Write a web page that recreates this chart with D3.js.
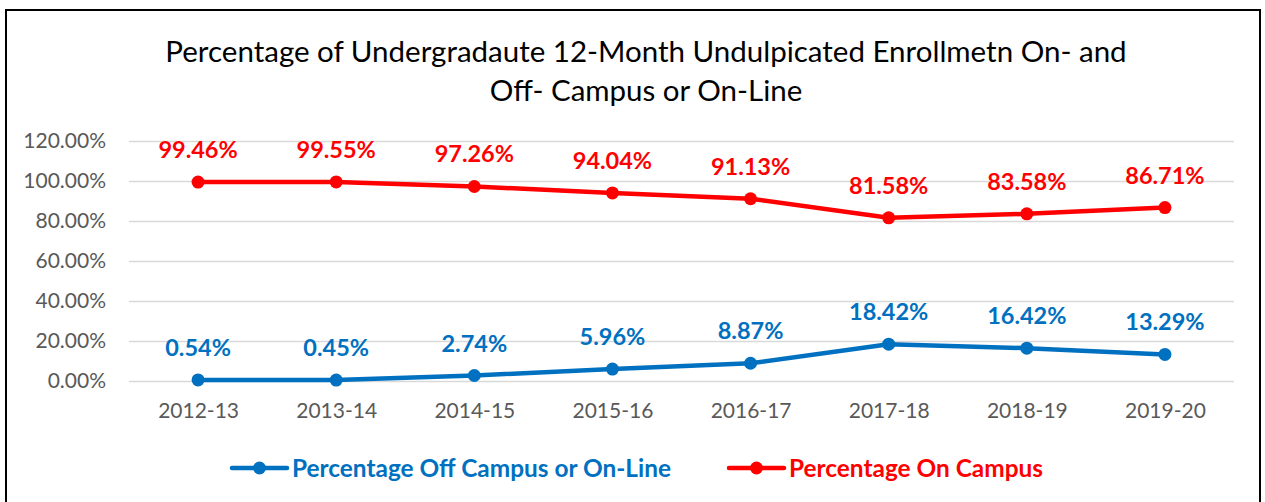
<!DOCTYPE html>
<html>
<head>
<meta charset="utf-8">
<script src="https://cdn.jsdelivr.net/npm/d3@7/dist/d3.min.js"></script>
<style>
  body { margin: 0; background: #fff; }
  svg { display: block; font-family: Lato, "Open Sans", sans-serif; }
</style>
</head>
<body>
<div id="chart"></div>
<script>
// data
var years = ["2012-13", "2013-14", "2014-15", "2015-16", "2016-17", "2017-18", "2018-19", "2019-20"];
var offCampus = [0.54, 0.45, 2.74, 5.96, 8.87, 18.42, 16.42, 13.29];
var onCampus = [99.46, 99.55, 97.26, 94.04, 91.13, 81.58, 83.58, 86.71];
var yTicks = [0, 20, 40, 60, 80, 100, 120];
var titleLines = ["Percentage of Undergradaute 12-Month Undulpicated Enrollmetn On- and",
                  "Off- Campus or On-Line"];

var series = [
  {name: "Percentage Off Campus or On-Line", values: offCampus, color: "#0070C0"},
  {name: "Percentage On Campus", values: onCampus, color: "#FF0000"}
];

var W = 1265, H = 502;
var plot = {left: 129, right: 1234, top: 141, bottom: 381};

var svg = d3.select("#chart").append("svg")
  .attr("width", W)
  .attr("height", H);

// outer chart border
svg.append("rect")
  .attr("x", 6).attr("y", 10)
  .attr("width", 1254).attr("height", 520)
  .attr("fill", "#fff")
  .attr("stroke", "#000")
  .attr("stroke-width", 2);

// title
svg.append("g").selectAll("text")
  .data(titleLines)
  .enter().append("text")
    .attr("x", 646)
    .attr("y", function(d, i) { return 62 + i * 39; })
    .attr("text-anchor", "middle")
    .attr("fill", "#000")
    .style("font-size", "29.5px")
    .text(function(d) { return d; });

var x = d3.scalePoint()
  .domain(years)
  .range([plot.left, plot.right])
  .padding(0.5);

var y = d3.scaleLinear()
  .domain([0, 120])
  .range([plot.bottom, plot.top]);

// gridlines
var yGrid = d3.axisLeft(y)
  .tickValues(yTicks)
  .tickFormat("")
  .tickSize(-(plot.right - plot.left));

var grid = svg.append("g")
  .attr("transform", "translate(" + plot.left + ",0)")
  .call(yGrid);
grid.select(".domain").remove();
grid.selectAll("line").attr("stroke", "#d9d9d9").attr("stroke-width", 1.5);

// y axis labels
var yAxis = svg.append("g")
  .attr("transform", "translate(" + (plot.left - 20) + ",0)")
  .call(d3.axisLeft(y).tickValues(yTicks).tickSize(0).tickFormat(function(d) { return d.toFixed(2) + "%"; }));
yAxis.select(".domain").remove();
yAxis.selectAll("text")
  .attr("fill", "#595959")
  .style("font-size", "21px")
  .style("font-family", "Lato, sans-serif");

// x axis labels
var xAxis = svg.append("g")
  .attr("transform", "translate(0," + plot.bottom + ")")
  .call(d3.axisBottom(x).tickSize(0).tickPadding(22));
xAxis.select(".domain").remove();
xAxis.selectAll("text")
  .attr("fill", "#595959")
  .style("font-size", "21px")
  .style("font-family", "Lato, sans-serif");

var line = d3.line()
  .x(function(d, i) { return x(years[i]); })
  .y(function(d) { return y(d); });

series.forEach(function(s) {
  var g = svg.append("g");
  g.append("path")
    .datum(s.values)
    .attr("d", line)
    .attr("fill", "none")
    .attr("stroke", s.color)
    .attr("stroke-width", 4.5)
    .attr("stroke-linejoin", "round");

  g.selectAll("circle")
    .data(s.values)
    .enter().append("circle")
      .attr("cx", function(d, i) { return x(years[i]); })
      .attr("cy", function(d) { return y(d); })
      .attr("r", 6.5)
      .attr("fill", s.color);

  g.selectAll("text")
    .data(s.values)
    .enter().append("text")
      .attr("x", function(d, i) { return x(years[i]); })
      .attr("y", function(d) { return y(d) - 24; })
      .attr("text-anchor", "middle")
      .attr("fill", s.color)
      .style("font-size", "23.5px")
      .style("font-weight", "bold")
      .text(function(d) { return d.toFixed(2) + "%"; });
});

// legend
var legendX = [232, 729];
var legend = svg.append("g").selectAll("g")
  .data(series)
  .enter().append("g")
    .attr("transform", function(d, i) { return "translate(" + legendX[i] + ",468)"; });

legend.append("line")
  .attr("x1", 0).attr("x2", 55)
  .attr("y1", 0).attr("y2", 0)
  .attr("stroke", function(d) { return d.color; })
  .attr("stroke-width", 4.5)
  .attr("stroke-linecap", "round");

legend.append("circle")
  .attr("cx", 27.5).attr("cy", 0)
  .attr("r", 6.5)
  .attr("fill", function(d) { return d.color; });

legend.append("text")
  .attr("x", 60)
  .attr("y", 0)
  .attr("dy", "0.35em")
  .attr("fill", function(d) { return d.color; })
  .style("font-size", "24.4px")
  .style("font-weight", "bold")
  .text(function(d) { return d.name; });
</script>
</body>
</html>
